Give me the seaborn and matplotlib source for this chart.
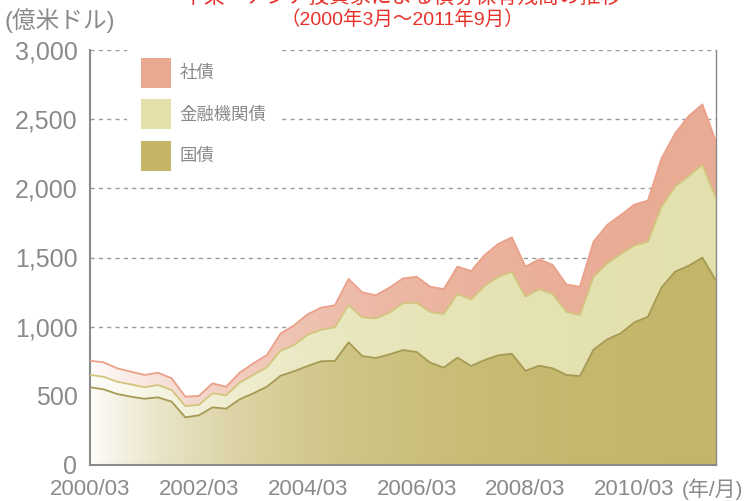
import numpy as np
import pandas as pd
import matplotlib
matplotlib.use("Agg")
import matplotlib.pyplot as plt
import seaborn as sns
from matplotlib.patches import Patch

# quarterly, 2000/03 .. 2011/09 (億米ドル)
quarters = [f"{y}/{m:02d}" for y in range(2000, 2012) for m in (3, 6, 9, 12)][:47]
gov = [562, 547, 513, 494, 479, 489, 458, 345, 359, 417,
       407, 475, 518, 566, 645, 678, 716, 750, 753, 887,
       788, 773, 800, 831, 817, 740, 704, 776, 716, 759,
       793, 804, 681, 718, 699, 651, 643, 834, 908, 952,
       1031, 1072, 1284, 1398, 1441, 1499, 1333]
fin = [89, 91, 89, 89, 83, 89, 84, 81, 75, 101,
       97, 120, 133, 140, 181, 189, 226, 228, 242, 270,
       279, 287, 301, 338, 356, 366, 388, 460, 482, 535,
       568, 591, 536, 552, 537, 457, 441, 525, 550, 573,
       555, 542, 583, 614, 648, 670, 595]
corp = [103, 104, 97, 92, 89, 89, 85, 68, 65, 72,
        62, 72, 84, 89, 124, 143, 148, 160, 160, 188,
        181, 167, 181, 180, 188, 183, 180, 198, 204, 224,
        237, 251, 217, 217, 210, 198, 205, 255, 277, 282,
        296, 298, 350, 386, 434, 438, 409]
labels = ["国債", "金融機関債", "社債"]
tick_labels = ["2000/03", "2002/03", "2004/03", "2006/03", "2008/03", "2010/03"]

df = pd.DataFrame({"quarter": quarters, "gov": gov, "fin": fin, "corp": corp})
df["x"] = np.arange(len(df))
df["c1"] = df["gov"]
df["c2"] = df["c1"] + df["fin"]
df["c3"] = df["c2"] + df["corp"]

sns.set_theme(style="white")
plt.rcParams["font.family"] = ["Liberation Sans", "Noto Sans CJK JP", "DejaVu Sans"]

fill_colors = ["#c2b464", "#e3e0ac", "#e8a991"]
line_colors = ["#a69a55", "#d2c57e", "#eba08a"]
gray = "#8a8a8a"

fig = plt.figure(figsize=(7.52, 5.01), dpi=100)
ax = fig.add_axes([90 / 752, 36 / 501, 626 / 752, 415 / 501])

# grid behind the areas
for yv in range(500, 3001, 500):
    ax.axhline(yv, color="#9a9a9a", lw=1, ls=(0, (3, 3)), zorder=0)

lower = np.zeros(len(df))
for col, fc in zip(["c1", "c2", "c3"], fill_colors):
    ax.fill_between(df["x"], lower, df[col], facecolor=fc, edgecolor="none", zorder=1)
    lower = df[col].values

# white fade from left to right, clipped to the total area
clip = ax.fill_between(df["x"], 0, df["c3"], facecolor="none", edgecolor="none")
t = np.linspace(0, 1, 400)
alpha = 0.97 * np.exp(-3.5 * t)
grad = np.ones((1, 400, 4))
grad[0, :, 3] = alpha
im = ax.imshow(grad, extent=[0, 46, 0, 3000], aspect="auto", zorder=2, origin="lower")
im.set_clip_path(clip.get_paths()[0], transform=ax.transData)

for col, lc in zip(["c1", "c2", "c3"], line_colors):
    sns.lineplot(data=df, x="x", y=col, color=lc, lw=1.3, ax=ax, zorder=3)

ax.set_xlim(0, 46)
ax.set_ylim(0, 3000)
ax.set_xticks([0, 8, 16, 24, 32, 40])
ax.set_xticklabels(tick_labels)
ax.set_yticks(range(0, 3001, 500))
ax.set_yticklabels([f"{v:,}" for v in range(0, 3001, 500)])
ax.set_xlabel("")
ax.set_ylabel("")
ax.tick_params(axis="x", direction="in", length=6, width=1, color=gray, labelsize=16,
               labelcolor=gray, pad=10)
ax.tick_params(axis="y", length=0, labelsize=18, labelcolor=gray, pad=9)

for s in ["left", "bottom"]:
    ax.spines[s].set_color(gray)
    ax.spines[s].set_linewidth(1.5)
ax.spines["right"].set_color(gray)
ax.spines["right"].set_linewidth(1)
ax.spines["top"].set_visible(False)

handles = [Patch(facecolor=c, edgecolor="none") for c in fill_colors[::-1]]
leg = ax.legend(handles, labels[::-1], loc="upper left", bbox_to_anchor=(0.059, 1.015),
                frameon=True, facecolor="white", edgecolor="none", framealpha=1,
                fontsize=12.5, handlelength=1.72, handleheight=2.27, labelspacing=0.68,
                handletextpad=0.5, borderpad=0.8, borderaxespad=0)
for txt in leg.get_texts():
    txt.set_color(gray)
leg.set_zorder(5)

fig.text(5 / 752, 1 - 21 / 501, "(億米ドル)", color=gray, fontsize=17, va="center", ha="left")
fig.text(682 / 752, 1 - 489 / 501, "(年/月)", color=gray, fontsize=15, va="center", ha="left")
fig.text(402 / 752, 1 + 3 / 501, "中東・アジア投資家による債券保有残高の推移", color="#e8312a",
         fontsize=15, va="center", ha="center")
fig.text(402 / 752, 1 - 20 / 501, "（2000年3月～2011年9月）", color="#e8312a",
         fontsize=14, va="center", ha="center")

plt.savefig("out.png", dpi=100)
